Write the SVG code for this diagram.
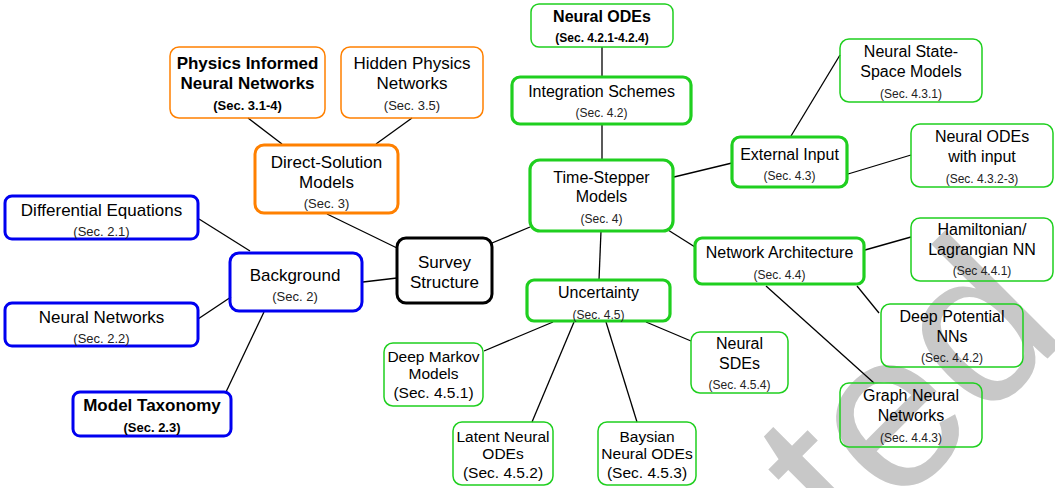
<svg xmlns="http://www.w3.org/2000/svg" width="1055" height="488" viewBox="0 0 1055 488">
<style>
text{font-family:"Liberation Sans",Arial,sans-serif;text-anchor:middle;fill:#000}
.t{font-size:17px}
.g{font-size:16px}
.b{font-weight:bold}
.s{font-size:13px;fill:#222}
.sg{font-size:12px;fill:#222}
.m{font-size:15.5px}
rect{fill:none}
.or{stroke:#ff8000;stroke-width:1.5}
.orT{stroke:#ff8000;stroke-width:3}
.bl{stroke:#0000f0;stroke-width:3}
.bk{stroke:#000;stroke-width:3}
.gr{stroke:#1fcf1f;stroke-width:1.5}
.grT{stroke:#1fcf1f;stroke-width:3.2}
#edges line{stroke:#000;stroke-width:1.3}
.wm{font-size:225px;fill:#c8c8c8;text-anchor:start}
</style>
<rect x="0" y="0" width="1055" height="488" style="fill:#fff"/>
<text class="wm" x="850" y="556" transform="rotate(-45 850 556)">ted</text>
<g id="edges">
<line x1="248" y1="118" x2="282" y2="144"/>
<line x1="412" y1="118" x2="376" y2="144"/>
<line x1="327" y1="214" x2="397" y2="248"/>
<line x1="199" y1="219" x2="250" y2="251"/>
<line x1="363" y1="282" x2="397" y2="278"/>
<line x1="198" y1="319" x2="231" y2="297"/>
<line x1="226" y1="392" x2="264" y2="312"/>
<line x1="492" y1="243" x2="530" y2="227"/>
<line x1="602" y1="47" x2="602" y2="77"/>
<line x1="602" y1="124" x2="602" y2="160"/>
<line x1="674" y1="177" x2="732" y2="163"/>
<line x1="791" y1="136" x2="840" y2="55"/>
<line x1="848" y1="174" x2="911" y2="155"/>
<line x1="668" y1="230" x2="695" y2="247"/>
<line x1="865" y1="250" x2="911" y2="237"/>
<line x1="857" y1="286" x2="879" y2="313"/>
<line x1="766" y1="286" x2="874" y2="383"/>
<line x1="601" y1="231" x2="599" y2="280"/>
<line x1="553" y1="322" x2="484" y2="351"/>
<line x1="574" y1="322" x2="532" y2="422"/>
<line x1="606" y1="322" x2="637" y2="422"/>
<line x1="646" y1="322" x2="691" y2="341"/>
</g>
<g id="pinn"><rect class="or" x="170" y="47" width="155" height="71" rx="9"/>
<text class="t b" x="247.5" y="69">Physics Informed</text><text class="t b" x="247.5" y="89">Neural Networks</text><text class="s b" x="247.5" y="109.5" style="fill:#000">(Sec. 3.1-4)</text></g>
<g id="hpn"><rect class="or" x="341" y="47" width="142" height="71" rx="9"/>
<text class="t" x="412" y="69">Hidden Physics</text><text class="t" x="412" y="89">Networks</text><text class="s" x="412" y="109.5">(Sec. 3.5)</text></g>
<g id="direct"><rect class="orT" x="255" y="145" width="143" height="68" rx="9"/>
<text class="t" x="326.5" y="168">Direct-Solution</text><text class="t" x="326.5" y="188">Models</text><text class="s" x="326.5" y="207.5">(Sec. 3)</text></g>
<g id="diffeq"><rect class="bl" x="5" y="196" width="193" height="43" rx="7"/>
<text class="t" x="101.5" y="216">Differential Equations</text><text class="s" x="101.5" y="235.5">(Sec. 2.1)</text></g>
<g id="background"><rect class="bl" x="230" y="253" width="132" height="58" rx="9"/>
<text class="t" x="295" y="281">Background</text><text class="s" x="295" y="300.5">(Sec. 2)</text></g>
<g id="survey"><rect class="bk" x="397" y="238" width="95" height="65" rx="9"/>
<text class="t" x="444.5" y="268">Survey</text><text class="t" x="444.5" y="287.5">Structure</text></g>
<g id="nn"><rect class="bl" x="5" y="303" width="193" height="43" rx="7"/>
<text class="t" x="101.5" y="323">Neural Networks</text><text class="s" x="101.5" y="342.5">(Sec. 2.2)</text></g>
<g id="taxonomy"><rect class="bl" x="73" y="392" width="158" height="44" rx="7"/>
<text class="t b" x="152" y="411">Model Taxonomy</text><text class="s b" x="152" y="431.5" style="fill:#000">(Sec. 2.3)</text></g>
<g id="nodes-ode"><rect class="gr" x="531" y="4" width="142" height="43" rx="8"/>
<text class="g b" x="602" y="21.5">Neural ODEs</text><text class="sg b" x="602" y="42" style="fill:#000">(Sec. 4.2.1-4.2.4)</text></g>
<g id="integration"><rect class="grT" x="512" y="77" width="179" height="47" rx="8"/>
<text class="g" x="601.5" y="96.5">Integration Schemes</text><text class="sg" x="601.5" y="117">(Sec. 4.2)</text></g>
<g id="timestepper"><rect class="grT" x="530" y="160" width="143" height="71" rx="10"/>
<text class="g" x="601.5" y="183">Time-Stepper</text><text class="g" x="601.5" y="202">Models</text><text class="sg" x="601.5" y="223">(Sec. 4)</text></g>
<g id="external"><rect class="grT" x="732" y="137" width="115" height="50" rx="8"/>
<text class="g" x="789.5" y="159.5">External Input</text><text class="sg" x="789.5" y="180">(Sec. 4.3)</text></g>
<g id="nssm"><rect class="gr" x="840" y="39" width="142" height="63" rx="9"/>
<text class="g" x="911" y="57">Neural State-</text><text class="g" x="911" y="76.5">Space Models</text><text class="sg" x="911" y="97.5">(Sec. 4.3.1)</text></g>
<g id="odeinput"><rect class="gr" x="911" y="124" width="142" height="63" rx="9"/>
<text class="g" x="982" y="142">Neural ODEs</text><text class="g" x="982" y="162">with input</text><text class="sg" x="982" y="183">(Sec. 4.3.2-3)</text></g>
<g id="netarch"><rect class="grT" x="695" y="238" width="169" height="46" rx="7"/>
<text class="g" x="779.5" y="258">Network Architecture</text><text class="sg" x="779.5" y="278.5">(Sec. 4.4)</text></g>
<g id="hamiltonian"><rect class="gr" x="911" y="218" width="142" height="63" rx="9"/>
<text class="g" x="982" y="235">Hamiltonian/</text><text class="g" x="982" y="255">Lagrangian NN</text><text class="sg" x="982" y="275">(Sec 4.4.1)</text></g>
<g id="deeppot"><rect class="gr" x="881" y="304" width="142" height="63" rx="9"/>
<text class="g" x="952" y="322">Deep Potential</text><text class="g" x="952" y="342">NNs</text><text class="sg" x="952" y="361.5">(Sec. 4.4.2)</text></g>
<g id="gnn"><rect class="gr" x="840" y="383" width="142" height="64" rx="9"/>
<text class="g" x="911" y="400.5">Graph Neural</text><text class="g" x="911" y="420.5">Networks</text><text class="sg" x="911" y="441.5">(Sec. 4.4.3)</text></g>
<g id="uncertainty"><rect class="grT" x="527" y="280" width="143" height="41" rx="7"/>
<text class="g" x="598.5" y="298">Uncertainty</text><text class="sg" x="598.5" y="318.5">(Sec. 4.5)</text></g>
<g id="sde"><rect class="gr" x="691" y="332" width="97" height="61" rx="9"/>
<text class="g" x="739.5" y="349">Neural</text><text class="g" x="739.5" y="369">SDEs</text><text class="sg" x="739.5" y="389">(Sec. 4.5.4)</text></g>
<g id="dmm"><rect class="gr" x="384" y="343" width="99" height="63" rx="9"/>
<text class="m" x="433.5" y="361.5">Deep Markov</text><text class="m" x="433.5" y="379">Models</text><text class="m" x="433.5" y="398">(Sec. 4.5.1)</text></g>
<g id="latent"><rect class="gr" x="453" y="422" width="100" height="63" rx="9"/>
<text class="m" x="503" y="441.5">Latent Neural</text><text class="m" x="503" y="459">ODEs</text><text class="m" x="503" y="478">(Sec. 4.5.2)</text></g>
<g id="bayes"><rect class="gr" x="598" y="422" width="98" height="63" rx="9"/>
<text class="m" x="647" y="441.5">Baysian</text><text class="m" x="647" y="459">Neural ODEs</text><text class="m" x="647" y="478">(Sec. 4.5.3)</text></g>
</svg>
